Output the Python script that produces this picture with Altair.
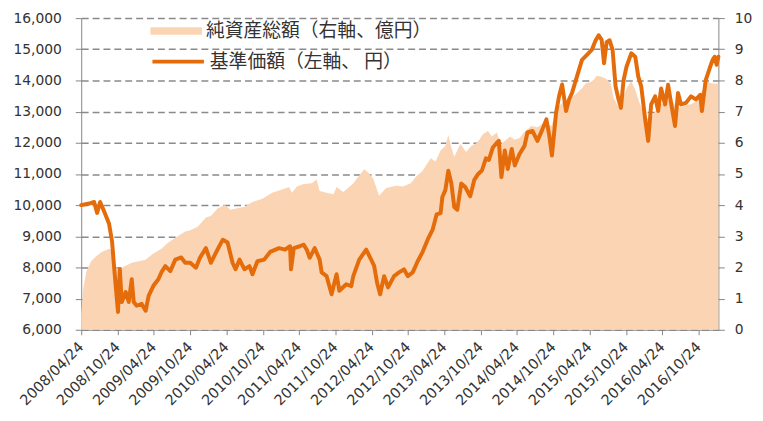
import altair as alt
import pandas as pd

# ---- data ----
area_label = "純資産総額（右軸、億円）"
line_label = "基準価額（左軸、 円）"

nav_dates = [
    "2008-04-24", "2008-06-03", "2008-06-28", "2008-07-13", "2008-07-28", "2008-08-17",
    "2008-09-11", "2008-09-26", "2008-10-06", "2008-10-16", "2008-10-26", "2008-11-04",
    "2008-11-14", "2008-12-04", "2008-12-19", "2009-01-03", "2009-01-13", "2009-01-28",
    "2009-02-22", "2009-03-14", "2009-03-29", "2009-04-22", "2009-05-17", "2009-06-01",
    "2009-06-21", "2009-07-16", "2009-08-10", "2009-09-09", "2009-09-29", "2009-10-24",
    "2009-11-22", "2009-12-12", "2010-01-11", "2010-02-05", "2010-03-02", "2010-04-06",
    "2010-04-30", "2010-05-25", "2010-06-09", "2010-06-29", "2010-07-24", "2010-08-18",
    "2010-09-02", "2010-09-27", "2010-10-31", "2010-11-30", "2011-01-14", "2011-02-13",
    "2011-03-10", "2011-03-15", "2011-03-29", "2011-04-28", "2011-05-18", "2011-06-02",
    "2011-06-17", "2011-07-12", "2011-08-06", "2011-08-16", "2011-09-10", "2011-10-05",
    "2011-10-30", "2011-11-13", "2011-12-18", "2012-01-12", "2012-01-22", "2012-02-21",
    "2012-03-27", "2012-04-21", "2012-05-06", "2012-05-21", "2012-06-05", "2012-06-25",
    "2012-07-15", "2012-08-14", "2012-09-08", "2012-10-03", "2012-10-22", "2012-11-16",
    "2012-12-11", "2013-01-05", "2013-01-30", "2013-02-24", "2013-03-16", "2013-04-05",
    "2013-04-14", "2013-04-29", "2013-05-14", "2013-05-29", "2013-06-13", "2013-06-28",
    "2013-07-18", "2013-08-07", "2013-09-01", "2013-09-21", "2013-10-11", "2013-10-30",
    "2013-11-19", "2013-12-04", "2013-12-24", "2014-01-13", "2014-01-23", "2014-02-05",
    "2014-02-22", "2014-03-09", "2014-03-29", "2014-04-13", "2014-05-07", "2014-06-01",
    "2014-06-16", "2014-07-11", "2014-08-05", "2014-08-30", "2014-09-19", "2014-10-04",
    "2014-10-17", "2014-11-07", "2014-11-22", "2014-12-07", "2014-12-27", "2015-01-11",
    "2015-01-26", "2015-02-20", "2015-03-17", "2015-04-11", "2015-05-05", "2015-05-25",
    "2015-06-09", "2015-06-24", "2015-07-06", "2015-07-19", "2015-08-03", "2015-08-18",
    "2015-09-02", "2015-09-17", "2015-09-29", "2015-10-12", "2015-10-27", "2015-11-20",
    "2015-12-10", "2015-12-25", "2016-01-09", "2016-01-29", "2016-02-13", "2016-02-28",
    "2016-03-19", "2016-04-03", "2016-04-18", "2016-05-08", "2016-05-23", "2016-06-07",
    "2016-06-27", "2016-07-12", "2016-07-27", "2016-08-21", "2016-09-15", "2016-10-10",
    "2016-11-01", "2016-11-09", "2016-11-28", "2016-12-18", "2017-01-02", "2017-01-12",
    "2017-01-22", "2017-01-31",
]
nav_values = [
    10000, 10050, 10100, 9750, 10100, 9800,
    9400, 8840, 8040, 7300, 6570, 7950,
    6890, 7210, 6890, 7620, 6890, 6770,
    6830, 6610, 7090, 7410, 7620, 7840,
    8040, 7880, 8250, 8320, 8150, 8150,
    7990, 8310, 8620, 8150, 8470, 8890,
    8800, 8150, 7940, 8250, 7940, 8040,
    7780, 8200, 8250, 8500, 8620, 8570,
    8680, 7940, 8620, 8680, 8730, 8570,
    8310, 8620, 8250, 7840, 7720, 7140,
    7780, 7250, 7460, 7400, 7720, 8250,
    8570, 8250, 8050, 7500, 7140, 7720,
    7360, 7720, 7840, 7940, 7720, 7840,
    8200, 8500, 8890, 9210, 9700, 9740,
    10260, 10480, 11100, 10700, 9940, 9850,
    10690, 10580, 10280, 10800, 11000, 11110,
    11500, 11450, 11850, 12000, 12060, 10900,
    11750, 11160, 11800, 11270, 11640, 11900,
    12330, 12380, 12060, 12430, 12750, 12220,
    11590, 12970, 13500, 13870, 13020, 13390,
    13600, 14130, 14660, 14820, 14980, 15290,
    15450, 15300, 14550, 15230, 15290, 14980,
    13810, 13390, 13120, 14000, 14440, 14870,
    14760, 14130, 13810, 12750, 12060, 13230,
    13490, 13020, 13740, 13230, 13860, 13280,
    12540, 13600, 13230, 13280, 13490, 13390,
    13540, 13020, 14000, 14390, 14660, 14760,
    14500, 14760,
]

aum_dates = [
    "2008-04-24", "2008-05-04", "2008-05-19", "2008-06-13", "2008-07-08", "2008-08-07",
    "2008-09-11", "2008-09-26", "2008-10-11", "2008-10-30", "2008-12-04", "2009-01-03",
    "2009-02-07", "2009-03-14", "2009-04-22", "2009-06-01", "2009-07-06", "2009-08-10",
    "2009-09-29", "2009-10-28", "2009-12-02", "2010-01-11", "2010-02-05", "2010-03-12",
    "2010-04-16", "2010-05-15", "2010-06-19", "2010-07-24", "2010-09-02", "2010-10-22",
    "2010-12-10", "2011-01-29", "2011-03-05", "2011-03-20", "2011-04-13", "2011-05-18",
    "2011-06-27", "2011-07-22", "2011-08-06", "2011-09-10", "2011-10-15", "2011-10-30",
    "2011-12-03", "2012-01-22", "2012-02-21", "2012-03-17", "2012-04-06", "2012-05-01",
    "2012-05-31", "2012-07-05", "2012-08-24", "2012-09-28", "2012-11-06", "2012-12-01",
    "2013-01-05", "2013-02-14", "2013-03-11", "2013-04-05", "2013-04-29", "2013-05-14",
    "2013-05-29", "2013-06-13", "2013-07-13", "2013-08-12", "2013-09-06", "2013-10-06",
    "2013-11-04", "2013-11-29", "2013-12-19", "2014-01-13", "2014-02-02", "2014-02-22",
    "2014-03-19", "2014-04-13", "2014-05-07", "2014-06-01", "2014-07-06", "2014-08-05",
    "2014-09-09", "2014-10-14", "2014-10-29", "2014-11-13", "2014-12-17", "2015-01-21",
    "2015-02-20", "2015-03-17", "2015-04-06", "2015-04-30", "2015-05-15", "2015-05-30",
    "2015-06-19", "2015-07-19", "2015-08-08", "2015-08-23", "2015-09-12", "2015-09-27",
    "2015-10-12", "2015-11-01", "2015-11-20", "2015-12-10", "2015-12-30", "2016-01-19",
    "2016-02-08", "2016-02-23", "2016-03-19", "2016-04-13", "2016-05-08", "2016-06-02",
    "2016-06-27", "2016-07-22", "2016-08-16", "2016-09-10", "2016-10-05", "2016-10-29",
    "2016-11-18", "2016-12-03", "2016-12-28", "2017-01-31",
]
aum_values = [
    0.5, 1.3, 1.85, 2.2, 2.36, 2.5,
    2.6, 2.55, 2.0, 1.95, 2.05, 2.15,
    2.2, 2.25, 2.45, 2.6, 2.8, 2.95,
    3.15, 3.2, 3.31, 3.6, 3.65, 3.9,
    4.0, 3.85, 3.9, 3.95, 4.1, 4.2,
    4.4, 4.5, 4.58, 4.4, 4.6, 4.68,
    4.7, 4.82, 4.45, 4.4, 4.35, 4.58,
    4.42, 4.69, 4.95, 5.15, 5.05, 4.85,
    4.3, 4.55, 4.62, 4.6, 4.7, 4.9,
    5.1, 5.5, 5.4, 5.75, 5.9, 6.25,
    5.85, 5.55, 5.96, 5.7, 5.9, 6.0,
    6.27, 6.38, 6.2, 6.33, 5.95, 6.06,
    6.2, 6.1, 6.15, 6.35, 6.54, 6.5,
    6.64, 6.54, 6.8, 7.12, 7.33, 7.44,
    7.6, 7.75, 7.91, 7.95, 8.02, 8.15,
    8.13, 8.05, 7.9, 7.44, 7.2, 7.05,
    7.5, 7.8, 7.97, 7.7, 7.3, 7.0,
    6.8, 6.75, 7.0, 7.23, 7.3, 7.44,
    7.2, 7.12, 7.2, 7.23, 7.3, 7.55,
    7.75, 7.97, 7.9, 7.9,
]

x_tick_dates = [
    "2008-04-24", "2008-10-24", "2009-04-24", "2009-10-24", "2010-04-24", "2010-10-24",
    "2011-04-24", "2011-10-24", "2012-04-24", "2012-10-24", "2013-04-24", "2013-10-24",
    "2014-04-24", "2014-10-24", "2015-04-24", "2015-10-24", "2016-04-24", "2016-10-24",
]
x_range = ["2008-04-24", "2017-01-31"]
left_ticks = list(range(6000, 16001, 1000))
right_ticks = list(range(0, 11))


def dt(s):
    y, m, d = (int(p) for p in s.split("-"))
    return alt.DateTime(year=y, month=m, date=d, utc=True)


area_df = pd.DataFrame({"date": aum_dates, "value": aum_values, "series": area_label})
line_df = pd.DataFrame({"date": nav_dates, "value": nav_values, "series": line_label})

AX_FONT = "DejaVu Sans"
LEG_FONT = "Noto Sans CJK JP"
TXT = "#333333"
AXC = "#868686"

x_enc = alt.X(
    "date:T",
    title=None,
    scale=alt.Scale(type="utc", domain=[dt(x_range[0]), dt(x_range[1])]),
    axis=alt.Axis(
        values=[dt(s) for s in x_tick_dates],
        format="%Y/%m/%d",
        labelAngle=315,
        labelAlign="right",
        labelBaseline="middle",
        labelPadding=10,
        tickSize=5,
        grid=False,
        labelFontSize=14.5,
        labelOverlap=False,
        labelFlush=False,
    ),
)

area = alt.Chart(area_df).mark_area(interpolate="linear", line=False, opacity=1).encode(
    x=x_enc,
    y=alt.Y(
        "value:Q",
        title=None,
        scale=alt.Scale(domain=[0, 10], nice=False, zero=True),
        axis=alt.Axis(orient="right", values=right_ticks, format=".0f", grid=False,
                      tickSize=6, labelPadding=10, labelFontSize=14),
    ),
    fill=alt.Fill(
        "series:N",
        scale=alt.Scale(domain=[area_label], range=["#FBD4B4"]),
        legend=alt.Legend(
            orient="none", legendX=70, legendY=-13, title=None,
            symbolType="M-1,-0.145L1,-0.145L1,0.145L-1,0.145Z",
            symbolSize=2704, symbolStrokeWidth=0,
            labelFont=LEG_FONT, labelFontSize=19, labelColor=TXT,
            labelOffset=4, labelLimit=0, padding=0,
        ),
    ),
)

line = alt.Chart(line_df).mark_line(
    interpolate="linear", strokeWidth=4, strokeJoin="round", strokeCap="round"
).encode(
    x=x_enc,
    y=alt.Y(
        "value:Q",
        title=None,
        scale=alt.Scale(domain=[6000, 16000], nice=False, zero=False),
        axis=alt.Axis(orient="left", values=left_ticks, format=",.0f", grid=True,
                      gridDash=[7, 4], gridColor="#8a8a8a", gridWidth=1.5,
                      tickSize=6, labelPadding=14, labelFontSize=14),
    ),
    stroke=alt.Stroke(
        "series:N",
        scale=alt.Scale(domain=[line_label], range=["#E46C0A"]),
        legend=alt.Legend(
            orient="none", legendX=70, legendY=16, title=None,
            symbolType="stroke", symbolSize=2704, symbolStrokeWidth=4,
            labelFont=LEG_FONT, labelFontSize=19, labelColor=TXT,
            labelOffset=4, labelLimit=0, padding=0,
        ),
    ),
)

chart = (
    alt.layer(area, line)
    .resolve_scale(y="independent")
    .properties(
        width=644,
        height=315,
        autosize=alt.AutoSizeParams(type="none"),
        padding={"left": 74, "top": 8, "right": 37, "bottom": 90},
    )
    .configure_view(stroke=None)
    .configure_axis(
        labelFont=AX_FONT,
        labelColor=TXT,
        domainColor=AXC,
        tickColor=AXC,
        domainWidth=1,
        tickWidth=1,
    )
)

chart.save("out.html", embed_options={"renderer": "svg", "actions": False})
